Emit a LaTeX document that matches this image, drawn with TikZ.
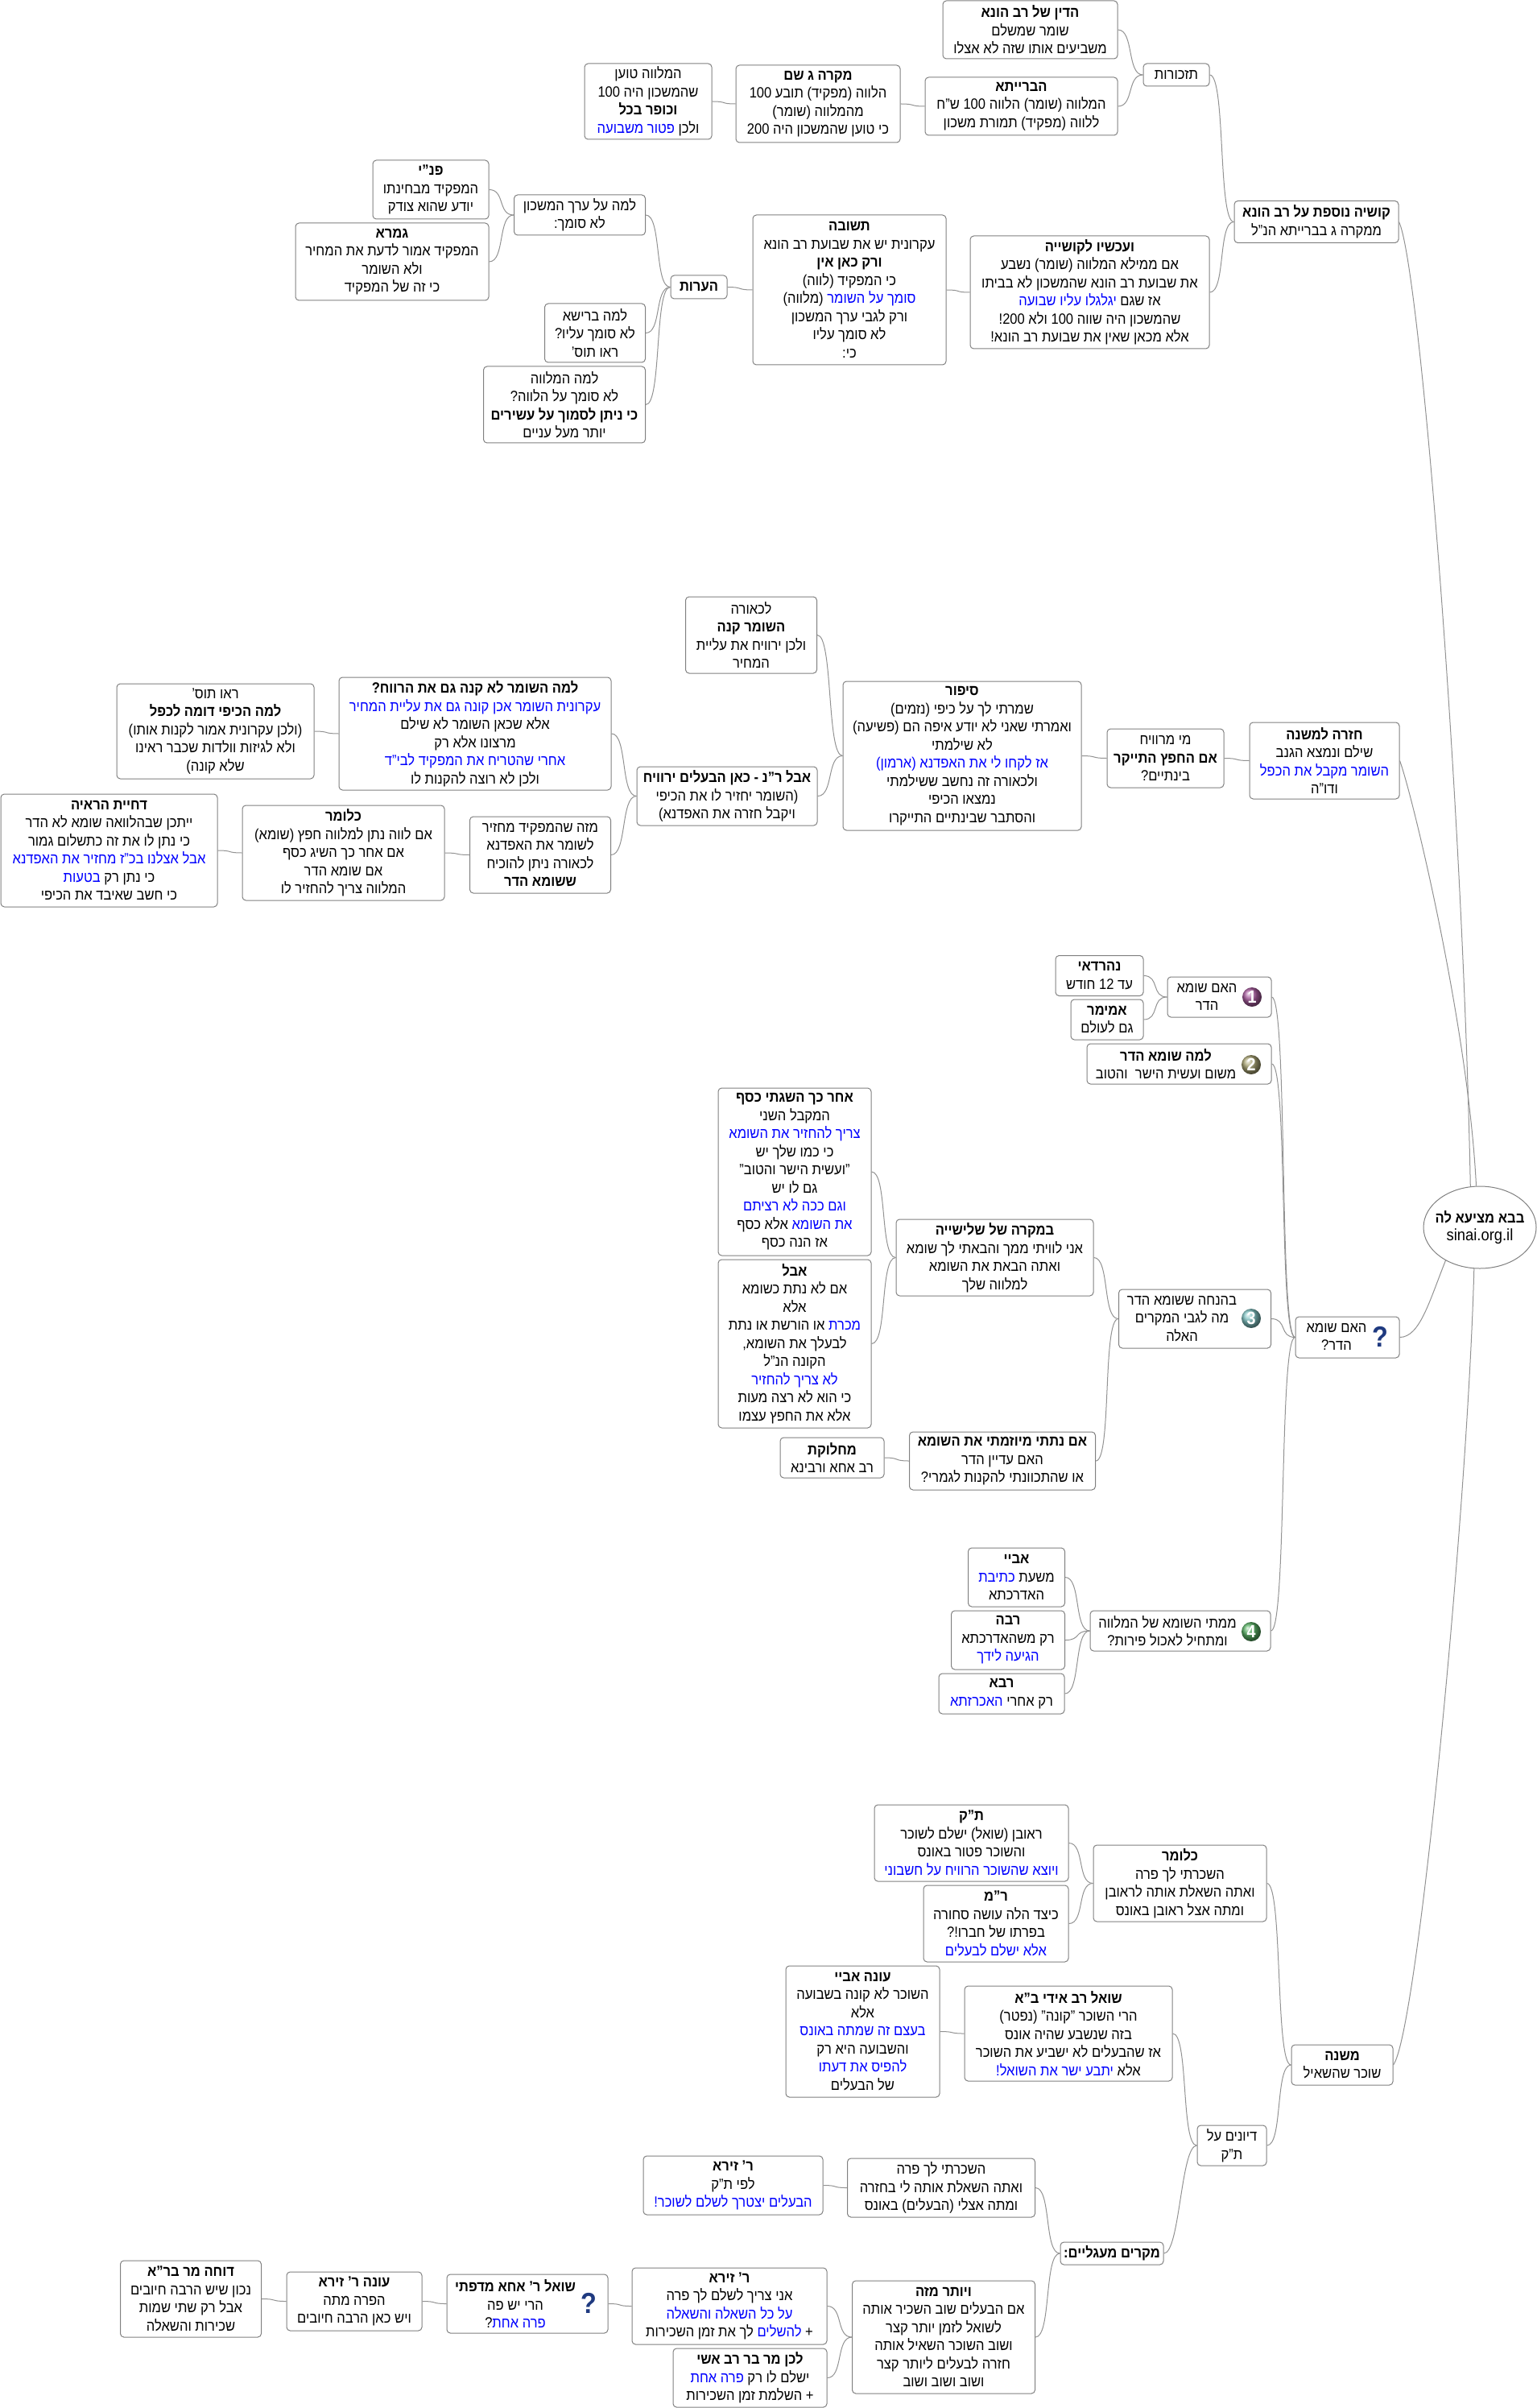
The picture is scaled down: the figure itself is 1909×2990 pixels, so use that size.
\documentclass[tikz,border=0pt]{standalone}
\usepackage{fontspec}
\setmainfont[Script=Hebrew,FakeStretch=0.9]{Liberation Sans}
\usepackage{xcolor}
\usetikzlibrary{shapes.geometric}
\TeXXeTstate=1
\definecolor{edgegray}{HTML}{808080}
\definecolor{linkgray}{HTML}{929292}
\definecolor{qblue}{HTML}{1F3A80}
\definecolor{ballone}{HTML}{A65A9C}
\definecolor{balltwo}{HTML}{A8A373}
\definecolor{ballthree}{HTML}{7FC2C2}
\definecolor{ballfour}{HTML}{58B064}
\newcommand{\heb}[1]{\beginR #1\endR}
\newcommand{\hbd}[1]{{\bfseries\beginR #1\endR}}
\newcommand{\blu}[1]{\hbox{\color{blue}\beginR #1\endR}}
\newcommand{\qm}{\kern0pt}
\begin{document}
\begin{tikzpicture}[x=0.5pt,y=-0.5pt,every node/.style={font=\fontsize{9.2pt}{11.25pt}\selectfont,align=center,inner sep=0pt},box/.style={draw=edgegray,line width=0.5pt,rounded corners=2.2pt,fill=white},size/.style 2 args={minimum width=#1*0.5pt,minimum height=#2*0.5pt},hub/.style={draw=edgegray,line width=0.5pt,ellipse,fill=white,inner sep=-3pt},link/.style={draw=linkgray,line width=0.5pt},ballmark/.style={circle,minimum size=12pt,ball color=#1,text=white,font=\bfseries\fontsize{11pt}{11pt}\selectfont},askmark/.style={text=qblue,font=\bfseries\fontsize{18pt}{18pt}\selectfont}]
\useasboundingbox (0,0) rectangle (1909,2990);
\node[hub,minimum width=70pt,minimum height=51pt] (root) at (1838,1524) {\hbd{בבא מציעא לה}\\{\fontsize{10.2pt}{11.25pt}\selectfont sinai.org.il}};
\node[box,size={204}{52}] (kushya) at (1635,275.5) {\hbd{קושיה נוספת על רב הונא}\\\heb{ממקרה ג בברייתא הנ"ל}};
\node[box,size={82}{28}] (tizkorot) at (1461,93) {\heb{תזכורות}};
\node[box,size={217}{72}] (din) at (1279.5,37) {\hbd{הדין של רב הונא}\\\heb{שומר שמשלם}\\\heb{משביעים אותו שזה לא אצלו}};
\node[box,size={239}{72}] (beraita) at (1268.5,132) {\hbd{הברייתא}\\\heb{המלווה (שומר) הלווה 100 ש"ח}\\\heb{ללווה (מפקיד) תמורת משכון}};
\node[box,size={204}{96}] (mikreg) at (1016,129) {\hbd{מקרה ג שם}\\\heb{הלווה (מפקיד) תובע 100}\\\heb{מהמלווה (שומר)}\\\heb{כי טוען שהמשכון היה 200}};
\node[box,size={158}{94}] (malve) at (805,126) {\heb{המלווה טוען}\\\heb{שהמשכון היה 100}\\\hbd{וכופר בכל}\\\blu{פטור משבועה} \heb{ולכן}};
\node[box,size={297}{140}] (veachshav) at (1353.5,363) {\hbd{ועכשיו לקושייה}\\\heb{אם ממילא המלווה (שומר) נשבע}\\\heb{את שבועת רב הונא שהמשכון לא בביתו}\\\blu{יגלגלו עליו שבועה} \heb{אז שגם}\\\heb{שהמשכון היה שווה 100 ולא 200\qm!}\\\heb{אלא מכאן שאין את שבועת רב הונא\qm!}};
\node[box,size={240}{186}] (teshuva) at (1055,360) {\hbd{תשובה}\\\heb{עקרונית יש את שבועת רב הונא}\\\hbd{ורק כאן אין}\\\heb{כי המפקיד (לווה)}\\\heb{(מלווה)} \blu{סומך על השומר}\\\heb{ורק לגבי ערך המשכון}\\\heb{לא סומך עליו}\\\heb{כי\qm:}};
\node[box,size={70}{29}] (heorot) at (868,356.5) {\hbd{הערות}};
\node[box,size={163}{50}] (lamaerech) at (720,267) {\heb{למה על ערך המשכון}\\\heb{לא סומך\qm:}};
\node[box,size={144}{73}] (pnei) at (535,235.5) {\hbd{פנ"י}\\\heb{המפקיד מבחינתו}\\\heb{יודע שהוא צודק}};
\node[box,size={240}{96}] (gemara) at (487,325) {\hbd{גמרא}\\\heb{המפקיד אמור לדעת את המחיר}\\\heb{ולא השומר}\\\heb{כי זה של המפקיד}};
\node[box,size={125}{73}] (bereisha) at (739,413.5) {\heb{למה ברישא}\\\heb{לא סומך עליו\qm?}\\\heb{ראו תוס\qm'}};
\node[box,size={201}{95}] (lamamalve) at (701,502.5) {\heb{למה המלווה}\\\heb{לא סומך על הלווה\qm?}\\\hbd{כי ניתן לסמוך על עשירים}\\\heb{יותר מעל עניים}};
\node[box,size={186}{95}] (chazara) at (1645,944.5) {\hbd{חזרה למשנה}\\\heb{שילם ונמצא הגנב}\\\blu{השומר מקבל את הכפל}\\\heb{ודו"ה}};
\node[box,size={145}{73}] (marviach) at (1447.5,941.5) {\heb{מי מרוויח}\\\hbd{אם החפץ התייקר}\\\heb{בינתיים\qm?}};
\node[box,size={296}{185}] (sipur) at (1195,938.5) {\hbd{סיפור}\\\heb{שמרתי לך על כיפי (נזמים)}\\\heb{ואמרתי שאני לא יודע איפה הם (פשיעה)}\\\heb{לא שילמתי}\\\blu{אז לקחו לי את האפדנא (ארמון)}\\\heb{ולכאורה זה נחשב ששילמתי}\\\heb{נמצאו הכיפי}\\\heb{והסתבר שבינתיים התייקרו}};
\node[box,size={163}{95}] (lechaora) at (933,788.5) {\heb{לכאורה}\\\hbd{השומר קנה}\\\heb{ולכן ירוויח את עליית}\\\heb{המחיר}};
\node[box,size={224}{73}] (avalran) at (903,988.5) {\hbd{אבל ר"נ - כאן הבעלים ירוויח}\\\heb{(השומר יחזיר לו את הכיפי}\\\heb{ויקבל חזרה את האפדנא)}};
\node[box,size={338}{140}] (lamashomer) at (590,911) {\hbd{למה השומר לא קנה גם את הרווח\qm?}\\\blu{עקרונית השומר אכן קונה גם את עליית המחיר}\\\heb{אלא שכאן השומר לא שילם}\\\heb{מרצונו אלא רק}\\\blu{אחרי שהטריח את המפקיד לבי"ד}\\\heb{ולכן לא רוצה להקנות לו}};
\node[box,size={245}{118}] (veru) at (267.5,908) {\heb{ראו תוס\qm'}\\\hbd{למה הכיפי דומה לכפל}\\\heb{(ולכן עקרונית אמור לקנות אותו)}\\\heb{ולא לגיזות וולדות שכבר ראינו}\\\heb{שלא קונה)}};
\node[box,size={175}{95}] (miza) at (671,1061.5) {\heb{מזה שהמפקיד מחזיר}\\\heb{לשומר את האפדנא}\\\heb{לכאורה ניתן להוכיח}\\\hbd{ששומא הדר}};
\node[box,size={251}{118}] (klomara) at (426.5,1059) {\hbd{כלומר}\\\heb{אם לווה נתן למלווה חפץ (שומא)}\\\heb{אם אחר כך השיג כסף}\\\heb{אם שומא הדר}\\\heb{המלווה צריך להחזיר לו}};
\node[box,size={269}{140}] (dchiya) at (135.5,1056) {\hbd{דחיית הראיה}\\\heb{ייתכן שבהלוואה שומא לא הדר}\\\heb{כי נתן לו את זה כתשלום גמור}\\\blu{אבל אצלנו בכ"ז מחזיר את האפדנא}\\\blu{בטעות} \heb{כי נתן רק}\\\heb{כי חשב שאיבד את הכיפי}};
\node[box,size={129}{51}] (qmain) at (1673.5,1660.5) {};
\node (qmaintext) at (1660,1660) {\heb{האם שומא}\\\heb{הדר\qm?}};
\node[askmark] (qmainmark) at (1714,1660) {?};
\node[box,size={129}{50}] (qone) at (1514.5,1238) {};
\node (qonetext) at (1499,1238) {\heb{האם שומא}\\\heb{הדר}};
\node[ballmark=ballone] (qonemark) at (1555,1238) {1};
\node[box,size={109}{50}] (nehardai) at (1365.5,1211.5) {\hbd{נהרדאי}\\\heb{עד 12 חודש}};
\node[box,size={90}{50}] (amemar) at (1375,1266) {\hbd{אמימר}\\\heb{גם לעולם}};
\node[box,size={229}{50}] (qtwo) at (1464.5,1321) {};
\node (qtwotext) at (1448,1321) {\hbd{למה שומא הדר}\\\heb{משום ועשית הישר\ \ והטוב}};
\node[ballmark=balltwo] (qtwomark) at (1554,1322) {2};
\node[box,size={189}{73}] (qthree) at (1484,1637.5) {};
\node (qthreetext) at (1468,1637.5) {\heb{בהנחה ששומא הדר}\\\heb{מה לגבי המקרים}\\\heb{האלה}};
\node[ballmark=ballthree] (qthreemark) at (1554,1637) {3};
\node[box,size={245}{95}] (bemikre) at (1235.5,1561.5) {\hbd{במקרה של שלישייה}\\\heb{אני לוויתי ממך והבאתי לך שומא}\\\heb{ואתה הבאת את השומא}\\\heb{למלווה שלך}};
\node[box,size={190}{208}] (achar) at (987,1455) {\hbd{אחר כך השגתי כסף}\\\heb{המקבל השני}\\\blu{צריך להחזיר את השומא}\\\heb{כי כמו שלך יש}\\\heb{"ועשית הישר והטוב"}\\\heb{גם לו יש}\\\blu{וגם ככה לא רציתם}\\\heb{אלא כסף} \blu{את השומא}\\\heb{אז הנה כסף}};
\node[box,size={190}{209}] (aval) at (987,1668.5) {\hbd{אבל}\\\heb{אם לא נתת כשומא}\\\heb{אלא}\\\heb{או הורשת או נתת} \blu{מכרת}\\\heb{לבעלך את השומא\qm,}\\\heb{הקונה הנ"ל}\\\blu{לא צריך להחזיר}\\\heb{כי הוא לא רצה מעות}\\\heb{אלא את החפץ עצמו}};
\node[box,size={231}{72}] (imnatati) at (1245,1814) {\hbd{אם נתתי מיוזמתי את השומא}\\\heb{האם עדיין הדר}\\\heb{או שהתכוונתי להקנות לגמרי\qm?}};
\node[box,size={129}{50}] (machloket) at (1033.5,1810) {\hbd{מחלוקת}\\\heb{רב אחא ורבינא}};
\node[box,size={224}{50}] (qfour) at (1466,2025) {};
\node (qfourtext) at (1450,2025) {\heb{ממתי השומא של המלווה}\\\heb{ומתחיל לאכול פירות\qm?}};
\node[ballmark=ballfour] (qfourmark) at (1554,2026) {4};
\node[box,size={120}{73}] (abaye) at (1262.5,1958.5) {\hbd{אביי}\\\blu{כתיבת} \heb{משעת}\\\heb{האדרכתא}};
\node[box,size={141}{73}] (raba) at (1252,2036.5) {\hbd{רבה}\\\heb{רק משהאדרכתא}\\\blu{הגיעה לידך}};
\node[box,size={156}{50}] (rava) at (1244,2103) {\hbd{רבא}\\\blu{האכרזתא} \heb{רק אחרי}};
\node[box,size={126}{50}] (mishna) at (1667,2564) {\hbd{משנה}\\\heb{שוכר שהשאיל}};
\node[box,size={215}{95}] (klomarb) at (1465.5,2338.5) {\hbd{כלומר}\\\heb{השכרתי לך פרה}\\\heb{ואתה השאלת אותה לראובן}\\\heb{ומתה אצל ראובן באונס}};
\node[box,size={241}{95}] (tanak) at (1206.5,2288.5) {\hbd{ת"ק}\\\heb{ראובן (שואל) ישלם לשוכר}\\\heb{והשוכר פטור באונס}\\\blu{ויוצא שהשוכר הרוויח על חשבוני}};
\node[box,size={180}{95}] (rmeir) at (1237,2388.5) {\hbd{ר"מ}\\\heb{כיצד הלה עושה סחורה}\\\heb{בפרתו של חברו\qm!\qm?}\\\blu{אלא ישלם לבעלים}};
\node[box,size={86}{50}] (divunim) at (1530,2664) {\heb{דיונים על}\\\heb{ת"ק}};
\node[box,size={258}{118}] (shoel) at (1327,2525) {\hbd{שואל רב אידי ב"א}\\\heb{הרי השוכר "קונה" (נפטר)}\\\heb{בזה שנשבע שהיה אונס}\\\heb{אז שהבעלים לא ישביע את השוכר}\\\blu{יתבע ישר את השואל\qm!} \heb{אלא}};
\node[box,size={191}{163}] (onah) at (1071.5,2522.5) {\hbd{עונה אביי}\\\heb{השוכר לא קונה בשבועה}\\\heb{אלא}\\\blu{בעצם זה שמתה באונס}\\\heb{והשבועה היא רק}\\\blu{להפיס את דעתו}\\\heb{של הבעלים}};
\node[box,size={128}{28}] (mikrim) at (1381,2798) {\hbd{מקרים מעגליים\qm:}};
\node[box,size={233}{73}] (hischarti) at (1169,2716.5) {\heb{השכרתי לך פרה}\\\heb{ואתה השאלת אותה לי בחזרה}\\\heb{ומתה אצלי (הבעלים) באונס}};
\node[box,size={223}{73}] (zeraa) at (910.5,2713.5) {\hbd{ר' זירא}\\\heb{לפי ת"ק}\\\blu{הבעלים יצטרך לשלם לשוכר\qm!}};
\node[box,size={227}{140}] (veyoter) at (1172,2902) {\hbd{ויותר מזה}\\\heb{אם הבעלים שוב השכיר אותה}\\\heb{לשואל לזמן יותר קצר}\\\heb{ושוב השוכר השאיל אותה}\\\heb{חזרה לבעלים ליותר קצר}\\\heb{ושוב ושוב ושוב}};
\node[box,size={242}{95}] (zerab) at (906,2863.5) {\hbd{ר' זירא}\\\heb{אני צריך לשלם לך פרה}\\\blu{על כל השאלה והשאלה}\\\heb{לך את זמן השכירות} \blu{להשלים} \heb{+}};
\node[box,size={191}{73}] (lachen) at (931.5,2952.5) {\hbd{לכן מר בר רב אשי}\\\blu{פרה אחת} \heb{ישלם לו רק}\\\heb{+ השלמת זמן השכירות}};
\node[box,size={200}{73}] (shoelacha) at (655,2860.5) {};
\node (shoelachatext) at (640,2860.5) {\hbd{שואל ר' אחא מדפתי}\\\heb{הרי יש פה}\\\heb{?}\blu{פרה אחת}};
\node[askmark] (shoelachamark) at (731,2860) {?};
\node[box,size={168}{73}] (onahzera) at (440,2857.5) {\hbd{עונה ר' זירא}\\\heb{הפרה מתה}\\\heb{ויש כאן הרבה חיובים}};
\node[box,size={175}{95}] (docheh) at (237,2854.5) {\hbd{דוחה מר בר"א}\\\heb{נכון שיש הרבה חיובים}\\\heb{אבל רק שתי שמות}\\\heb{שכירות והשאלה}};
\foreach \a/\b in {din/tizkorot,beraita/tizkorot,malve/mikreg,mikreg/beraita,tizkorot/kushya,veachshav/kushya,teshuva/veachshav,heorot/teshuva,lamaerech/heorot,bereisha/heorot,lamamalve/heorot,pnei/lamaerech,gemara/lamaerech,lechaora/sipur,avalran/sipur,sipur/marviach,marviach/chazara,lamashomer/avalran,miza/avalran,veru/lamashomer,klomara/miza,dchiya/klomara,nehardai/qone,amemar/qone,qone/qmain,qtwo/qmain,qthree/qmain,qfour/qmain,bemikre/qthree,imnatati/qthree,achar/bemikre,aval/bemikre,machloket/imnatati,abaye/qfour,raba/qfour,rava/qfour,tanak/klomarb,rmeir/klomarb,klomarb/mishna,divunim/mishna,shoel/divunim,mikrim/divunim,onah/shoel,zeraa/hischarti,hischarti/mikrim,veyoter/mikrim,zerab/veyoter,lachen/veyoter,shoelacha/zerab,onahzera/shoelacha,docheh/onahzera}
\draw[link] (\a.east) .. controls +(20,0) and +(-20,0) .. (\b.west);
\draw[link] (kushya.east) .. controls +(25,50) and +(-10,-500) .. (root.103);
\draw[link] (chazara.east) .. controls +(15,40) and +(-10,-200) .. (root.95);
\draw[link] (qmain.east) .. controls +(25,0) and +(-20,50) .. (root.224);
\draw[link] (mishna.east) .. controls +(30,-40) and +(-8,300) .. (root.262);
\end{tikzpicture}
\end{document}
